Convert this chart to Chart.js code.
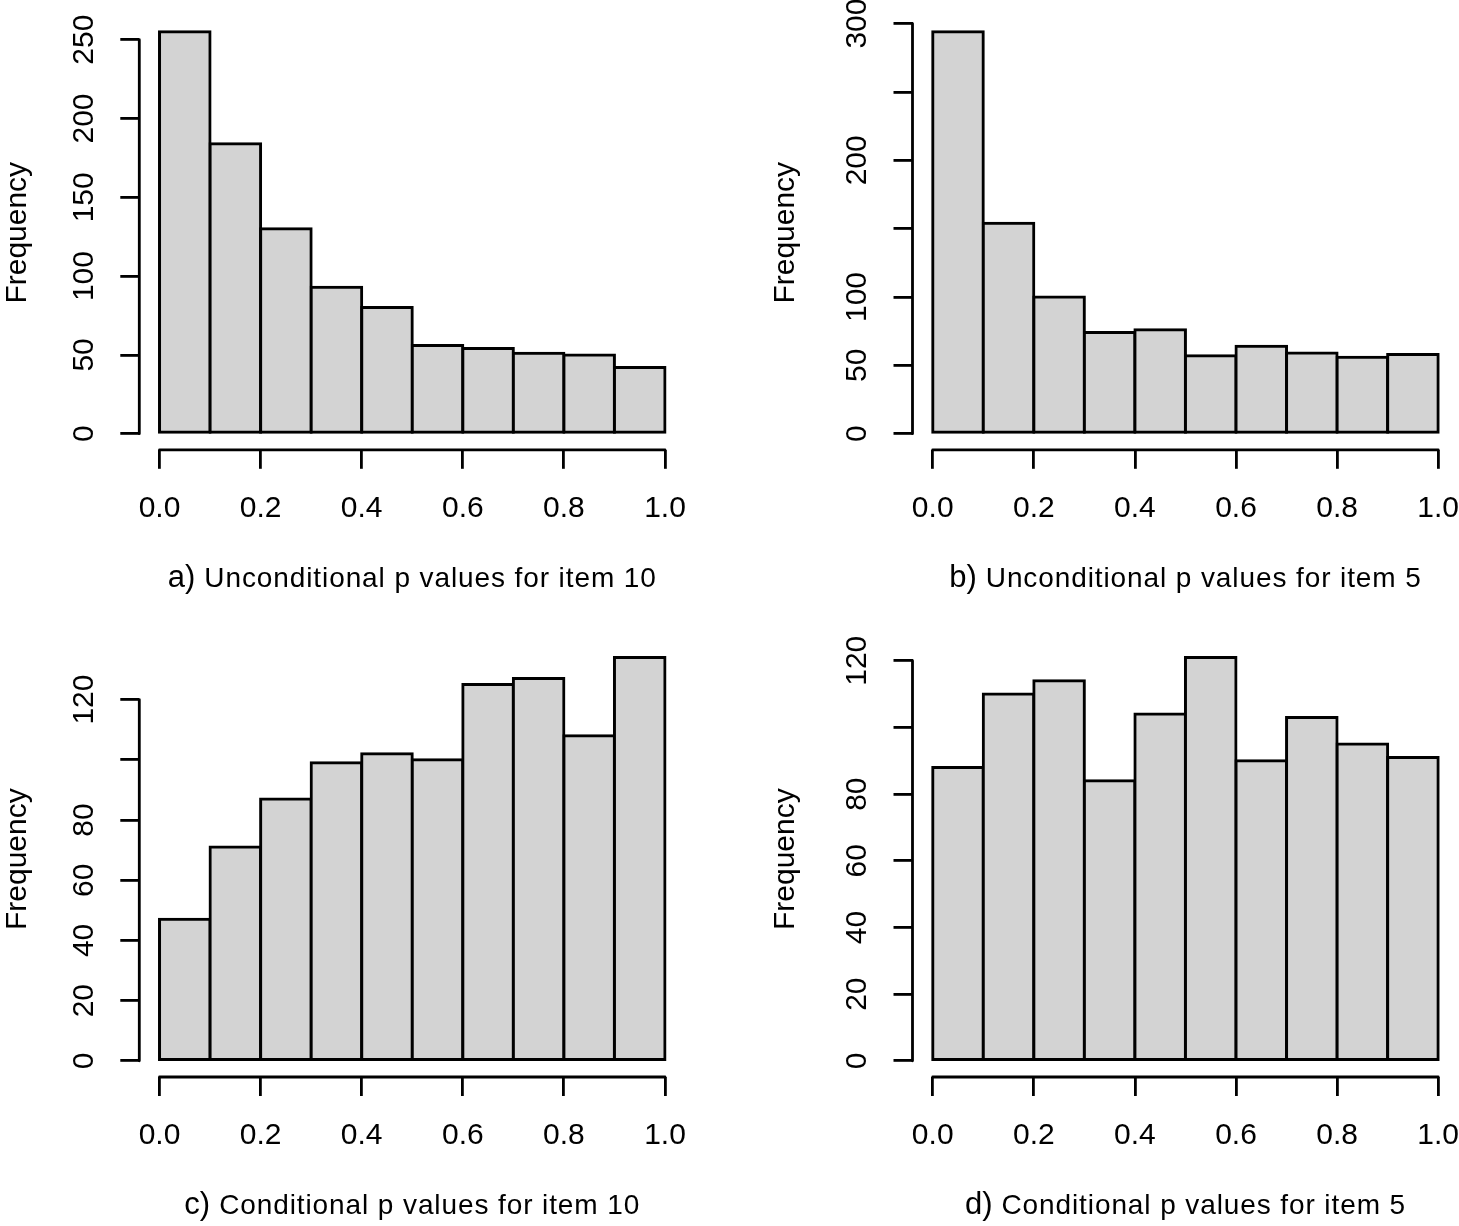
<!DOCTYPE html>
<html>
<head>
<meta charset="utf-8">
<title>p value histograms</title>
<script src="https://cdn.jsdelivr.net/npm/chart.js@4.4.1/dist/chart.umd.min.js"></script>
<style>
  html, body { margin: 0; padding: 0; background: #fff; }
  #page { position: relative; width: 1459px; height: 1226px; }
  canvas { position: absolute; }
</style>
</head>
<body>
<div id="page">
  <canvas id="histA" width="730" height="613" style="left:0;top:0"></canvas>
  <canvas id="histB" width="729" height="613" style="left:730px;top:0"></canvas>
  <canvas id="histC" width="730" height="613" style="left:0;top:613px"></canvas>
  <canvas id="histD" width="729" height="613" style="left:730px;top:613px"></canvas>
</div>
<script>
// bins of width 0.1 on [0, 1], given by their midpoints
const binMids = [0.05, 0.15, 0.25, 0.35, 0.45, 0.55, 0.65, 0.75, 0.85, 0.95];
const xTicks = [0, 0.2, 0.4, 0.6, 0.8, 1.0];

// counts
const countsA = [255, 184, 130, 93, 80, 56, 54, 51, 50, 42];
const countsB = [294, 154, 100, 74, 76, 57, 64, 59, 56, 58];
const countsC = [47, 71, 87, 99, 102, 100, 125, 127, 108, 134];
const countsD = [88, 110, 114, 84, 104, 121, 90, 103, 95, 91];

const yTicksA = [0, 50, 100, 150, 200, 250];
const yLabelsA = ['0', '50', '100', '150', '200', '250'];
const yTicksB = [0, 50, 100, 150, 200, 250, 300];
const yLabelsB = ['0', '50', '100', '', '200', '', '300'];
const yTicksCD = [0, 20, 40, 60, 80, 100, 120];
const yLabelsCD = ['0', '20', '40', '60', '80', '', '120'];

const tagsABCD = ['a)', 'b)', 'c)', 'd)'];
const captionsABCD = [
  'Unconditional p values for item 10',
  'Unconditional p values for item 5',
  'Conditional p values for item 10',
  'Conditional p values for item 5'
];

const FONT = '"Liberation Sans", Arial, Helvetica, sans-serif';
Chart.defaults.font.family = FONT;
Chart.defaults.color = '#000';

// R style axes: the line only runs from first to last tick
const rAxes = {
  id: 'rAxes',
  afterDraw(chart) {
    const { ctx, chartArea, scales: { x, y } } = chart;
    const xt = x.ticks, yt = y.ticks;
    ctx.save();
    ctx.strokeStyle = '#000';
    ctx.lineWidth = 2.8;
    ctx.lineCap = 'round';
    ctx.beginPath();
    ctx.moveTo(chartArea.left, y.getPixelForValue(yt[0].value));
    ctx.lineTo(chartArea.left, y.getPixelForValue(yt[yt.length - 1].value));
    ctx.moveTo(x.getPixelForValue(xt[0].value), chartArea.bottom);
    ctx.lineTo(x.getPixelForValue(xt[xt.length - 1].value), chartArea.bottom);
    ctx.stroke();
    ctx.restore();
  }
};

// sub caption under each panel, the panel letter a bit larger
const caption = {
  id: 'caption',
  afterDraw(chart, args, opts) {
    const { ctx, chartArea } = chart;
    ctx.save();
    ctx.fillStyle = '#000';
    ctx.textBaseline = 'alphabetic';
    ctx.textAlign = 'left';
    ctx.font = '31px ' + FONT;
    const w1 = ctx.measureText(opts.tag).width;
    ctx.font = '28px ' + FONT;
    ctx.letterSpacing = '0.9px';
    const w2 = ctx.measureText(opts.text).width;
    const gap = 9;
    let x = (chartArea.left + chartArea.right) / 2 - (w1 + gap + w2) / 2;
    const y = chartArea.bottom + opts.offset;
    ctx.fillText(opts.text, x + w1 + gap, y);
    ctx.letterSpacing = '0px';
    ctx.font = '31px ' + FONT;
    ctx.fillText(opts.tag, x, y);
    ctx.restore();
  }
};

function histogram(id, counts, yTicks, yLabels, tag, text, box) {
  const ymax = Math.max(...counts);
  return new Chart(document.getElementById(id), {
    type: 'bar',
    data: {
      datasets: [{
        data: binMids.map((x, i) => ({ x: x, y: counts[i] })),
        backgroundColor: '#d3d3d3',
        borderColor: '#000',
        borderWidth: 3,
        borderSkipped: false,
        inflateAmount: 1.5,
        barPercentage: 1,
        categoryPercentage: 1
      }]
    },
    options: {
      responsive: false,
      animation: false,
      events: [],
      layout: { padding: { left: 0, top: box.top, right: box.right, bottom: 0 } },
      plugins: {
        legend: { display: false },
        tooltip: { enabled: false },
        caption: { tag: tag, text: text, offset: 137 }
      },
      scales: {
        x: {
          type: 'linear',
          offset: false,
          min: -0.04,
          max: 1.04,
          border: { display: false },
          grid: { offset: false, drawOnChartArea: false, drawTicks: true, tickLength: 19, color: '#000', lineWidth: 2.8 },
          ticks: {
            font: { size: 30 },
            padding: 22,
            autoSkip: false,
            maxRotation: 0,
            callback: v => v.toFixed(1)
          },
          afterBuildTicks: s => { s.ticks = xTicks.map(v => ({ value: v })); },
          afterFit: s => {
            s.height = box.xh;
            s.paddingLeft = 0; s.paddingRight = 0;
          }
        },
        y: {
          min: -0.04 * ymax,
          max: 1.04 * ymax,
          border: { display: false },
          grid: { drawOnChartArea: false, drawTicks: true, tickLength: 19, color: '#000', lineWidth: 2.8 },
          ticks: {
            font: { size: 30 },
            padding: 11,
            autoSkip: false,
            minRotation: 90,
            maxRotation: 90,
            crossAlign: 'center',
            callback: (v, i) => yLabels[i]
          },
          title: {
            display: true,
            text: 'Frequency',
            font: { size: 30 },
            padding: { top: box.titlePad, bottom: 0 }
          },
          afterBuildTicks: s => { s.ticks = yTicks.map(v => ({ value: v })); },
          afterFit: s => {
            s.width = box.yw;
            s.paddingTop = 0; s.paddingBottom = 0;
          }
        }
      }
    },
    plugins: [rAxes, caption]
  });
}

histogram('histA', countsA, yTicksA, yLabelsA, tagsABCD[0], captionsABCD[0],
  { top: 15.7, right: 44.8, yw: 139.3, xh: 163.2, titlePad: 0 });
histogram('histB', countsB, yTicksB, yLabelsB, tagsABCD[1], captionsABCD[1],
  { top: 15.7, right: 0.6, yw: 182.5, xh: 163.2, titlePad: 37.6 });
histogram('histC', countsC, yTicksCD, yLabelsCD, tagsABCD[2], captionsABCD[2],
  { top: 28.3, right: 44.8, yw: 139.3, xh: 149, titlePad: 0 });
histogram('histD', countsD, yTicksCD, yLabelsCD, tagsABCD[3], captionsABCD[3],
  { top: 28.3, right: 0.6, yw: 182.5, xh: 149, titlePad: 37.6 });
</script>
</body>
</html>
